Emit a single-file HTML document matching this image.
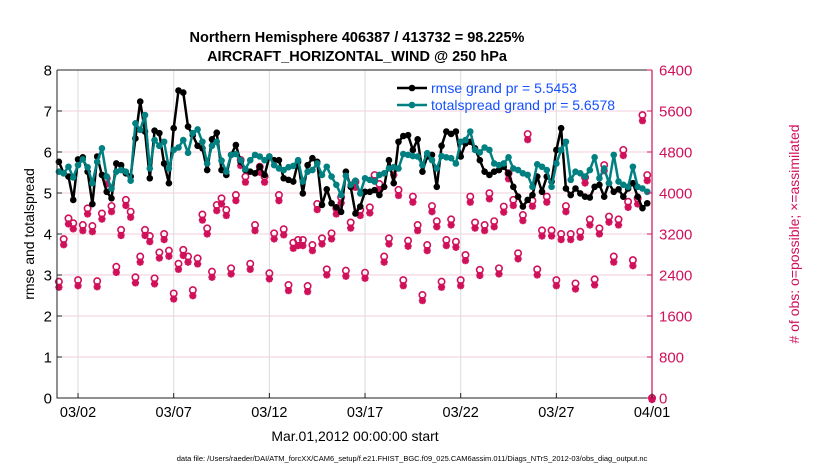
<!DOCTYPE html>
<html><head><meta charset="utf-8"><style>
body{margin:0;background:#fff;}
svg{display:block;font-family:"Liberation Sans",Arial,sans-serif;}
</style></head><body>
<svg id="chart" width="830" height="470" viewBox="0 0 830 470">
<text x="357" y="42" text-anchor="middle" font-size="14.5" font-weight="bold">Northern Hemisphere 406387 / 413732 = 98.225%</text>
<text x="357" y="61" text-anchor="middle" font-size="14.5" font-weight="bold">AIRCRAFT_HORIZONTAL_WIND @ 250 hPa</text>
<g id="grid"></g>
<g id="marks"></g>
<g id="axes"></g>
<text transform="translate(34,234) rotate(-90)" text-anchor="middle" font-size="14">rmse and totalspread</text>
<text transform="translate(799,234) rotate(-90)" text-anchor="middle" font-size="14" fill="#d0105a"># of obs: o=possible; ×=assimilated</text>
<text x="355" y="441" text-anchor="middle" font-size="14">Mar.01,2012 00:00:00 start</text>
<text x="412" y="461" text-anchor="middle" font-size="7.5">data file: /Users/raeder/DAI/ATM_forcXX/CAM6_setup/f.e21.FHIST_BGC.f09_025.CAM6assim.011/Diags_NTrS_2012-03/obs_diag_output.nc</text>
<g>
<g>
<line x1="397" y1="88" x2="427" y2="88" stroke="#000" stroke-width="2.5"/><circle cx="412" cy="88" r="3.3" fill="#000"/>
<text x="431" y="93" font-size="14" fill="#1450ff">rmse grand pr = 5.5453</text></g>
<g>
<line x1="397" y1="105" x2="427" y2="105" stroke="#008080" stroke-width="2.5"/><circle cx="412" cy="105" r="3.3" fill="#008080"/>
<text x="431" y="110" font-size="14" fill="#1450ff">totalspread grand pr = 5.6578</text></g>
</g>
</svg>
<script>
const xTickLabels=["03/02","03/07","03/12","03/17","03/22","03/27","04/01"];
const xTickDays=[1,6,11,16,21,26,31];
const yLeftTicks=[0,1,2,3,4,5,6,7,8];
const yRightTicks=[0,800,1600,2400,3200,4000,4800,5600,6400];
const rmse=[5.76,5.48,5.40,4.83,5.82,5.87,5.52,4.73,5.89,5.44,5.03,4.87,5.72,5.68,5.48,5.40,6.33,7.23,6.50,5.36,6.52,6.46,5.72,5.24,6.58,7.50,7.45,6.62,6.41,6.15,6.09,5.56,6.31,6.47,5.56,5.44,5.93,6.17,5.76,5.56,5.52,5.48,
5.64,5.44,5.89,5.80,5.80,5.36,5.32,5.28,5.76,4.99,5.68,5.85,5.76,4.71,5.09,4.75,4.65,4.54,5.52,5.15,4.50,4.67,5.03,5.03,5.07,4.95,5.15,5.80,5.24,6.25,6.39,6.41,6.05,6.31,5.52,5.89,5.93,5.15,6.15,6.50,6.44,6.50,
5.89,6.21,6.25,6.09,5.80,5.52,5.44,5.52,5.56,5.64,5.48,5.15,4.91,4.67,4.83,4.95,5.40,5.03,5.40,5.28,6.05,6.58,5.11,4.95,5.11,4.99,4.91,4.89,5.15,5.20,4.91,5.24,5.03,5.09,4.91,5.11,5.24,4.91,4.63,4.75];
const spread=[5.52,5.48,5.64,5.38,5.68,5.82,5.63,5.24,5.76,6.09,5.40,5.11,5.52,5.56,5.52,5.30,6.70,6.54,6.90,5.60,6.29,6.15,6.25,5.60,6.05,6.11,6.29,5.98,6.46,6.55,6.25,5.72,6.15,6.25,5.79,5.52,5.93,5.95,5.80,5.58,5.80,5.93,
5.89,5.80,5.89,5.68,5.60,5.56,5.63,5.66,5.80,5.28,5.52,5.56,5.72,5.44,5.64,5.40,5.20,4.95,5.42,5.20,5.30,4.99,5.36,5.32,5.28,5.44,5.48,5.60,5.63,5.60,5.95,5.93,5.90,5.89,5.68,5.97,5.80,5.60,5.90,5.87,5.85,5.72,
6.25,6.29,6.50,6.05,5.99,6.11,6.05,5.72,5.68,5.72,5.87,5.60,5.56,5.48,5.44,5.15,5.70,5.64,5.56,5.15,5.72,6.05,6.25,5.32,5.52,5.48,5.40,5.56,5.87,5.36,5.60,5.24,5.93,5.28,5.20,5.15,5.64,5.15,5.11,5.03];
const obsPossible=[2270,3100,3505,3410,2300,3375,3700,3355,2280,3600,4285,3745,2560,3280,3865,3635,2355,2760,3280,3160,2335,2840,3200,2875,2040,2620,2890,2760,2105,2725,3580,3310,2465,3765,3895,3670,2530,3960,4645,4320,2620,3375,
4513,4320,2433,3213,3960,3293,2205,3030,3083,3083,2185,2985,3785,3115,2510,3213,3700,3915,2485,3425,4220,3670,2445,3720,4350,4175,2760,3115,4460,4060,2300,3070,3930,3375,2010,2985,3745,3450,2270,3083,3485,3050,
2300,2790,3930,3425,2500,3375,3995,3450,2530,3735,4385,3865,2825,3570,5150,3850,2510,3270,3930,3270,2300,3200,3745,3200,2235,3245,4305,3485,2315,3310,4545,3540,2760,3485,4840,3830,2690,3895,5520,4350,0];
const obsAssim=[2190,3020,3425,3330,2220,3295,3620,3275,2200,3520,4205,3665,2480,3200,3785,3555,2275,2680,3200,3080,2255,2760,3120,2795,1960,2540,2810,2680,2025,2645,3500,3230,2385,3685,3815,3590,2450,3880,4565,4240,2540,3295,
4433,4240,2353,3133,3880,3213,2125,2950,3003,3003,2105,2905,3705,3035,2430,3133,3620,3835,2405,3345,4140,3590,2365,3640,4270,4095,2680,3035,4380,3980,2220,2990,3850,3295,1930,2905,3665,3370,2190,3003,3405,2970,
2220,2710,3850,3345,2420,3295,3915,3370,2450,3655,4305,3785,2745,3490,5070,3770,2430,3190,3850,3190,2220,3120,3665,3120,2155,3165,4225,3405,2235,3230,4465,3460,2680,3405,4760,3750,2610,3815,5440,4270,0];

const NS="http://www.w3.org/2000/svg";
const X0=57,X1=652,Y0=398,Y1=70;
function xScale(d){return 58.9+d*19.133;}
function yL(v){return Y0-(v/8)*(Y0-Y1);}
function yR(v){return Y0-(v/6400)*(Y0-Y1);}
function mk(tag,attrs,parent){const e=document.createElementNS(NS,tag);for(const k in attrs)e.setAttribute(k,attrs[k]);parent.appendChild(e);return e;}
const gridG=document.getElementById('grid'),marksG=document.getElementById('marks'),axesG=document.getElementById('axes');
const PINK="#d0105a";
yLeftTicks.forEach((t)=>{if(t===0||t===8)return;
 const l=mk('line',{x1:X0,x2:X1,y1:yL(t),y2:yL(t),stroke:"#f4cfdc","stroke-width":1},gridG);
 
 });
xTickDays.forEach(d=>{
 const l=mk('line',{x1:xScale(d),x2:xScale(d),y1:Y1,y2:Y0,stroke:"#dcdcdc","stroke-width":1},gridG);
 
 });
function star(cx,cy,g){const r=3.6;
 mk('line',{x1:cx-r,x2:cx+r,y1:cy,y2:cy},g);mk('line',{x1:cx,x2:cx,y1:cy-r,y2:cy+r},g);
 mk('line',{x1:cx-2.6,x2:cx+2.6,y1:cy-2.6,y2:cy+2.6},g);mk('line',{x1:cx-2.6,x2:cx+2.6,y1:cy+2.6,y2:cy-2.6},g);}
const obsG=mk('g',{stroke:PINK,fill:"none"},marksG);


obsPossible.forEach((v,i)=>{const cx=xScale(i*0.25);
 const c=mk('circle',{cx:cx,cy:yR(v),r:3.2,"stroke-width":1.6},obsG);
 
 
 const g=mk('g',{"stroke-width":2.2},obsG);
 
 
 star(cx,yR(obsAssim[i])+1.5,g);});
function series(arr,color,name){
 const g=mk('g',{},marksG);
 
 
 const pts=arr.map((v,i)=>xScale(i*0.25).toFixed(1)+","+yL(v).toFixed(1)).join(" ");
 mk('polyline',{points:pts,fill:"none",stroke:color,"stroke-width":2.5,"stroke-linejoin":"round"},g);
 arr.forEach((v,i)=>{const c=mk('circle',{cx:xScale(i*0.25),cy:yL(v),r:3.3,fill:color},g);
  
  });}
series(rmse,"#000","rmse-line");
series(spread,"#008080","totalspread-line");
const frame=mk('path',{d:`M${X0},${Y1}V${Y0}H${X1}`,stroke:"#222",fill:"none","stroke-width":1},axesG);


const topBorder=mk('line',{x1:X0,x2:X1,y1:Y1,y2:Y1,stroke:"#222","stroke-width":1},axesG);


const ra=mk('line',{x1:X1,x2:X1,y1:Y1,y2:Y0,stroke:PINK,"stroke-width":1.2},axesG);


yLeftTicks.forEach(t=>{
 mk('line',{x1:X0,x2:X0+5,y1:yL(t),y2:yL(t),stroke:"#222"},axesG);
 const tx=mk('text',{x:X0-5,y:yL(t)+5.5,"text-anchor":"end","font-size":15},axesG);
 tx.textContent=t;
 
 });
yRightTicks.forEach(t=>{
 mk('line',{x1:X1-5,x2:X1,y1:yR(t),y2:yR(t),stroke:PINK},axesG);
 const tx=mk('text',{x:X1+7,y:yR(t)+5.5,"font-size":15,fill:PINK},axesG);
 tx.textContent=t;
 
 });
xTickDays.forEach((d,i)=>{
 mk('line',{x1:xScale(d),x2:xScale(d),y1:Y0,y2:Y0-5,stroke:"#222"},axesG);
 const tx=mk('text',{x:xScale(d),y:Y0+19,"text-anchor":"middle","font-size":14.5},axesG);
 tx.textContent=xTickLabels[i];
 
 });
</script>
</body></html>
